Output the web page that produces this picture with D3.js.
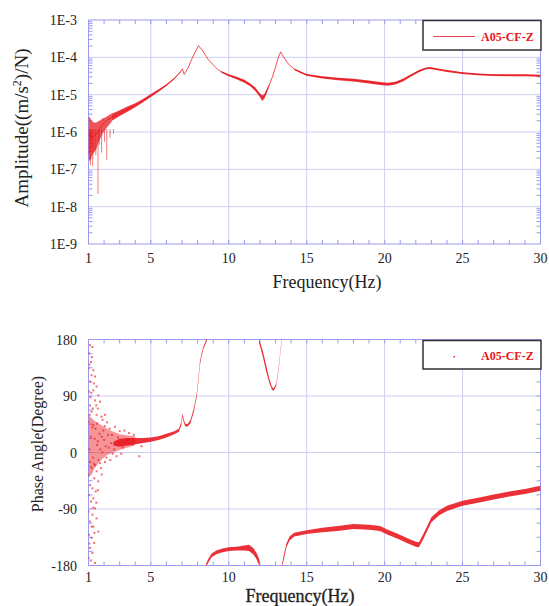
<!DOCTYPE html>
<html>
<head>
<meta charset="utf-8">
<script src="https://cdn.jsdelivr.net/npm/d3@7"></script>
<style>
  body { margin: 0; background: #fff; }
  svg { display: block; }
  text { font-family: "Liberation Serif", "Times New Roman", serif; fill: #222; }
</style>
</head>
<body>
<svg id="chart" width="549" height="606"></svg>
<script>
// x axis ticks (Hz)
const freqTicks = [1, 5, 10, 15, 20, 25, 30];
const freqMinor = d3.range(1, 31);
const ampTicks = [1e-9, 1e-8, 1e-7, 1e-6, 1e-5, 1e-4, 1e-3];
const ampTickLabels = ["1E-9", "1E-8", "1E-7", "1E-6", "1E-5", "1E-4", "1E-3"];
const phaseTicks = [-180, -90, 0, 90, 180];
const phaseMinor = d3.range(-180, 181, 22.5);

// amplitude, centre of the trace [Hz, (m/s2)/N]
const ampMain = [
  [1.0, 9e-7], [1.15, 7.5e-7], [1.3, 7.5e-7], [1.45, 8.5e-7], [1.6, 1.0e-6], [1.8, 1.4e-6],
  [2.0, 1.8e-6], [2.5, 2.5e-6], [3.0, 3.2e-6], [3.5, 4.1e-6], [4.0, 5.2e-6], [4.5, 7.0e-6],
  [5.0, 9.5e-6], [5.5, 1.3e-5], [6.0, 1.8e-5], [6.5, 2.7e-5], [6.8, 3.6e-5], [7.02, 4.9e-5],
  [7.14, 3.5e-5], [7.4, 5.3e-5], [7.6, 8.5e-5], [7.85, 1.4e-4], [8.06, 2.05e-4], [8.3, 1.55e-4],
  [8.5, 1.15e-4], [8.7, 8.6e-5], [9.0, 6.3e-5], [9.3, 4.7e-5], [9.6, 3.9e-5], [10.0, 3.3e-5],
  [10.5, 2.8e-5], [11.0, 2.3e-5], [11.4, 1.8e-5], [11.7, 1.4e-5], [11.95, 1.05e-5], [12.15, 8.3e-6],
  [12.3, 9.5e-6], [12.45, 1.3e-5], [12.6, 1.8e-5], [12.8, 3.0e-5], [13.0, 5.5e-5], [13.2, 1.05e-4],
  [13.33, 1.4e-4], [13.5, 1.05e-4], [13.8, 6.8e-5], [14.2, 4.8e-5], [14.6, 3.9e-5], [15.0, 3.4e-5],
  [16.0, 2.9e-5], [17.0, 2.65e-5], [18.0, 2.45e-5], [19.0, 2.2e-5], [19.7, 2.0e-5], [20.2, 1.9e-5],
  [20.7, 2.05e-5], [21.2, 2.5e-5], [21.7, 3.3e-5], [22.2, 4.3e-5], [22.6, 5.0e-5], [22.9, 5.2e-5],
  [23.5, 4.7e-5], [24.0, 4.3e-5], [25.0, 3.8e-5], [26.0, 3.5e-5], [27.0, 3.35e-5], [28.0, 3.3e-5],
  [29.0, 3.3e-5], [30.0, 3.2e-5]
];

// noise spread of the amplitude trace [Hz, low, high]
const ampBandNoise = [
  [1.0, 2.0e-7, 2.6e-6], [1.1, 1.6e-7, 2.4e-6], [1.2, 2.2e-7, 2.0e-6], [1.35, 2.8e-7, 1.8e-6],
  [1.5, 3.5e-7, 1.8e-6], [1.7, 6.0e-7, 2.0e-6], [1.9, 9.0e-7, 2.3e-6], [2.1, 1.2e-6, 2.5e-6],
  [2.5, 1.9e-6, 3.2e-6]
];
const ampBandLow = [
  [2.5, 2.0e-6, 3.1e-6], [3.0, 2.7e-6, 3.8e-6], [3.5, 3.5e-6, 4.8e-6], [4.0, 4.6e-6, 5.9e-6],
  [4.5, 6.3e-6, 7.7e-6], [5.0, 8.7e-6, 1.04e-5], [5.5, 1.2e-5, 1.4e-5], [6.0, 1.7e-5, 1.9e-5],
  [6.5, 2.6e-5, 2.8e-5], [6.9, 4.0e-5, 4.2e-5]
];
const ampBandMid = [
  [9.5, 3.9e-5, 4.3e-5], [10.0, 3.1e-5, 3.5e-5], [10.5, 2.6e-5, 3.0e-5], [11.0, 2.1e-5, 2.5e-5],
  [11.4, 1.65e-5, 1.95e-5], [11.7, 1.25e-5, 1.55e-5], [11.95, 9.2e-6, 1.15e-5], [12.15, 6.8e-6, 9.5e-6],
  [12.3, 8.0e-6, 1.08e-5], [12.45, 1.15e-5, 1.42e-5], [12.6, 1.7e-5, 1.9e-5]
];
const ampBandHigh = [
  [14.2, 4.6e-5, 5.0e-5], [15, 3.2e-5, 3.6e-5], [16, 2.7e-5, 3.1e-5], [17, 2.45e-5, 2.85e-5],
  [18, 2.25e-5, 2.65e-5], [19, 2.0e-5, 2.4e-5], [19.7, 1.82e-5, 2.2e-5], [20.2, 1.72e-5, 2.08e-5],
  [20.7, 1.87e-5, 2.23e-5], [21.2, 2.3e-5, 2.7e-5], [21.7, 3.05e-5, 3.55e-5], [22.2, 4.0e-5, 4.6e-5],
  [22.6, 4.7e-5, 5.3e-5], [22.9, 4.9e-5, 5.5e-5], [23.5, 4.45e-5, 4.95e-5], [24, 4.05e-5, 4.55e-5],
  [25, 3.6e-5, 4.0e-5], [26, 3.3e-5, 3.7e-5], [27, 3.15e-5, 3.55e-5], [28, 3.1e-5, 3.5e-5],
  [29, 3.1e-5, 3.5e-5], [30, 3.0e-5, 3.4e-5]
];
// downward spikes at low frequency [Hz, lowest value]
const ampSpikes = [
  [1.04, 2.6e-7], [1.12, 1.3e-7], [1.19, 3.5e-7], [1.27, 1.2e-7], [1.36, 3.2e-7], [1.47, 2.4e-7],
  [1.61, 2.2e-8], [1.7, 4.5e-7], [1.84, 2.8e-7], [2.03, 5.5e-7], [2.17, 1.8e-7], [2.38, 7e-7], [2.6, 9e-7]
];

// phase branches [Hz, low deg, high deg]
const phaseCloud = [
  [1.0, -40, 60], [1.2, -35, 55], [1.4, -25, 50], [1.8, -12, 44], [2.2, -4, 38], [2.6, 0, 33],
  [3.0, 4, 29], [3.5, 8, 27], [4.0, 11, 26]
];
const phaseA = [
  [2.6, 11, 17], [3.0, 9, 22], [3.5, 11, 23], [4.0, 13, 23], [4.5, 15, 23], [5.0, 17, 24], [5.5, 20, 26],
  [6.0, 24, 30], [6.5, 29, 34], [6.8, 33, 38], [6.95, 43, 49], [7.02, 57, 62], [7.1, 49, 54],
  [7.2, 42, 46], [7.35, 41, 45], [7.55, 47, 52], [7.78, 67, 73], [7.94, 88, 94], [8.05, 113, 119],
  [8.15, 139, 145], [8.25, 153, 158], [8.36, 164, 168], [8.5, 173, 177], [8.6, 178, 182]
];
const phaseB = [
  [11.95, 174, 182], [12.05, 165, 173], [12.2, 151, 160], [12.4, 129, 139], [12.6, 111, 118],
  [12.75, 101, 106], [12.85, 98, 102], [12.95, 101, 105], [13.05, 107, 111], [13.15, 123, 127],
  [13.25, 143, 147], [13.32, 161, 165], [13.4, 178, 182]
];
const phaseC = [
  [8.55, -182, -177], [8.7, -175, -169], [8.9, -167, -161], [9.2, -162, -156], [9.6, -159, -153],
  [10.0, -157, -151], [10.5, -156, -150], [11.0, -156, -148], [11.3, -157, -147], [11.6, -163, -153],
  [11.8, -171, -161], [11.97, -182, -171]
];
const phaseD = [
  [13.42, -182, -177], [13.55, -169, -161], [13.7, -151, -145], [13.9, -140, -134], [14.2, -134, -128],
  [15.0, -130, -124], [16.0, -127, -120], [17.0, -125, -117], [18.0, -122, -114], [19.0, -123, -115],
  [19.7, -125, -117], [20.2, -131, -123], [20.8, -137, -129], [21.5, -145, -137], [22.0, -150, -142],
  [22.2, -151, -143], [22.5, -137, -129], [23.0, -111, -103], [23.5, -100, -92], [24.0, -93, -85],
  [25.0, -85, -77], [26.0, -80, -72], [27.0, -75, -67], [28.0, -70, -62], [29.0, -66, -58], [30.0, -61, -53]
];
// scattered phase points at low frequency [Hz, deg]
const phaseScatter = [
  [1.10, 171], [1.25, 168], [1.03, 158], [1.16, 144], [1.0, 134], [1.31, 131], [1.20, 123], [1.42, 121],
  [1.10, 113], [1.52, 105], [1.31, 99], [1.03, 97], [1.63, 91], [1.42, 83], [1.74, 81], [1.10, 75],
  [1.20, 65], [1.52, 60], [1.84, 57], [2.06, 60], [1.0, 49], [1.31, 44], [1.6, 70], [1.9, 52],
  [1.10, -15], [1.42, -20], [1.74, -17], [2.06, -15], [1.20, -25], [1.52, -30], [1.0, -36], [1.37, -41],
  [1.63, -46], [1.10, -52], [1.25, -57], [1.46, -62], [1.03, -68], [1.31, -73], [1.16, -78], [1.42, -89],
  [1.0, -94], [1.25, -99], [1.52, -105], [1.10, -110], [1.31, -118], [1.63, -126], [1.03, -131], [1.20, -136],
  [1.37, -144], [1.10, -152], [1.25, -160], [1.0, -168], [1.42, -176], [4.26, -6], [2.4, -12], [2.8, -6],
  [2.2, 48], [2.7, 41], [3.3, 35], [1.8, -25], [1.55, 12], [1.15, 25], [1.05, 5], [1.28, -8],
  [1.7, 30], [2.0, 20], [2.3, 8], [2.5, 28], [1.9, 0], [3.1, -2], [3.6, 31], [1.45, 38],
  [1.12, 88], [1.05, 140], [1.22, 152], [1.35, 110], [1.18, 95], [1.5, 75], [1.08, 60], [1.28, 70],
  [1.6, -60], [1.85, -35], [1.5, -80], [1.2, -118], [1.38, -128], [1.05, -145], [1.15, -172], [1.3, -88],
  [1.6, 18], [1.75, 5], [1.95, 35], [2.1, 10], [2.25, 28], [2.45, 15], [2.65, 5], [2.9, 24],
  [3.2, 8], [3.45, 18], [3.8, 13], [2.15, -8], [1.65, -12], [1.4, 22], [1.25, 40], [1.35, -18],
  [2.35, 38], [2.55, -2], [3.0, 34], [3.9, 28], [4.4, 10], [1.55, 46], [1.85, 25], [2.05, 42]
];

const svg = d3.select("#chart");
const RED = "#e8141b";
const AXIS = "#9a9af0";
const GRID = "#cdcdf5";

const x = d3.scaleLinear().domain([1, 30]).range([88.5, 540.5]);
const yAmp = d3.scaleLog().domain([1e-9, 1e-3]).range([244, 20]);
const yPh = d3.scaleLinear().domain([-180, 180]).range([565.5, 339.5]);

const defs = svg.append("defs");

function panel(id, y, yMajor, yMinorVals, yFmt, labelOffset) {
  const [y0, y1] = y.range(); // bottom, top
  const x0 = x.range()[0], x1 = x.range()[1];
  defs.append("clipPath").attr("id", id)
    .append("rect").attr("x", x0).attr("y", y1).attr("width", x1 - x0).attr("height", y0 - y1);

  const g = svg.append("g");
  // grid
  g.append("g").selectAll("line").data(freqTicks.slice(1, -1)).join("line")
    .attr("x1", d => x(d)).attr("x2", d => x(d)).attr("y1", y1).attr("y2", y0)
    .attr("stroke", GRID).attr("stroke-width", 1);
  g.append("g").selectAll("line").data(yMajor.slice(1, -1)).join("line")
    .attr("x1", x0).attr("x2", x1).attr("y1", d => y(d)).attr("y2", d => y(d))
    .attr("stroke", GRID).attr("stroke-width", 1);

  // inward minor ticks
  const t = g.append("g").attr("stroke", AXIS).attr("stroke-width", 1);
  t.selectAll(".xb").data(freqMinor).join("line")
    .attr("x1", d => x(d)).attr("x2", d => x(d)).attr("y1", y0).attr("y2", y0 - 4);
  t.selectAll(".xt").data(freqMinor).join("line")
    .attr("x1", d => x(d)).attr("x2", d => x(d)).attr("y1", y1).attr("y2", y1 + 4);
  t.selectAll(".yl").data(yMinorVals).join("line")
    .attr("x1", x0).attr("x2", x0 + 4).attr("y1", d => y(d)).attr("y2", d => y(d));
  t.selectAll(".yr").data(yMinorVals).join("line")
    .attr("x1", x1).attr("x2", x1 - 4).attr("y1", d => y(d)).attr("y2", d => y(d));

  // frame
  g.append("rect").attr("x", x0).attr("y", y1).attr("width", x1 - x0).attr("height", y0 - y1)
    .attr("fill", "none").attr("stroke", AXIS).attr("stroke-width", 1);

  // tick labels
  g.append("g").selectAll("text").data(freqTicks).join("text")
    .attr("x", d => x(d)).attr("y", y0 + labelOffset).attr("text-anchor", "middle")
    .attr("font-size", 14).text(d => d);
  g.append("g").selectAll("text").data(yMajor).join("text")
    .attr("x", 77).attr("y", d => y(d) + 5).attr("text-anchor", "end")
    .attr("font-size", 14).text((d, i) => yFmt(d, i));
  return g;
}

// ---- top: amplitude ----
const ampMinor = [];
for (let e = -9; e < -3; e++) for (let m = 2; m <= 9; m++) ampMinor.push(m * Math.pow(10, e));
panel("clipAmp", yAmp, ampTicks, ampMinor, (d, i) => ampTickLabels[i], 19);

const gAmp = svg.append("g").attr("clip-path", "url(#clipAmp)");
const ampArea = d3.area().x(d => x(d[0])).y0(d => yAmp(d[1])).y1(d => yAmp(d[2]));
gAmp.append("path").datum(ampBandNoise).attr("d", ampArea)
  .attr("fill", RED).attr("fill-opacity", 0.72);
[ampBandLow, ampBandMid, ampBandHigh].forEach(b => {
  gAmp.append("path").datum(b).attr("d", ampArea)
    .attr("fill", RED).attr("fill-opacity", 0.85);
});
gAmp.append("g").selectAll("line").data(ampSpikes).join("line")
  .attr("x1", d => x(d[0])).attr("x2", d => x(d[0]))
  .attr("y1", d => yAmp(1.2e-6)).attr("y2", d => yAmp(d[1]))
  .attr("stroke", RED).attr("stroke-width", 0.8).attr("stroke-opacity", 0.7);
gAmp.append("path").datum(ampMain)
  .attr("d", d3.line().x(d => x(d[0])).y(d => yAmp(d[1])))
  .attr("fill", "none").attr("stroke", RED).attr("stroke-width", 1).attr("stroke-opacity", 0.75);

// labels
svg.append("text").attr("x", 327).attr("y", 288).attr("text-anchor", "middle")
  .attr("font-size", 18).text("Frequency(Hz)");
const ampLabel = svg.append("text")
  .attr("transform", "translate(28,128) rotate(-90)").attr("text-anchor", "middle").attr("font-size", 19);
ampLabel.append("tspan").text("Amplitude((m/s");
ampLabel.append("tspan").attr("font-size", 12).attr("dy", -7).text("2");
ampLabel.append("tspan").attr("dy", 7).text(")/N)");

// legend
const lg1 = svg.append("g");
lg1.append("rect").attr("x", 423).attr("y", 20.5).attr("width", 118).attr("height", 29.5)
  .attr("fill", "#fff").attr("stroke", "#333").attr("stroke-width", 1.5);
lg1.append("line").attr("x1", 433).attr("x2", 475).attr("y1", 36.5).attr("y2", 36.5)
  .attr("stroke", RED).attr("stroke-width", 1).attr("stroke-opacity", 0.8);
lg1.append("text").attr("x", 481).attr("y", 41).attr("font-size", 12).attr("font-weight", "bold")
  .style("fill", RED).text("A05-CF-Z");

// ---- bottom: phase ----
panel("clipPh", yPh, phaseTicks, phaseMinor, d => d, 16);

const gPh = svg.append("g").attr("clip-path", "url(#clipPh)");
const phArea = d3.area().x(d => x(d[0])).y0(d => yPh(d[1])).y1(d => yPh(d[2]));
gPh.append("path").datum(phaseCloud).attr("d", phArea)
  .attr("fill", RED).attr("fill-opacity", 0.45);
[phaseA, phaseB, phaseC, phaseD].forEach(b => {
  gPh.append("path").datum(b).attr("d", phArea)
    .attr("fill", RED).attr("fill-opacity", 0.88);
});
gPh.append("g").selectAll("rect").data(phaseScatter).join("rect")
  .attr("x", d => x(d[0]) - 1).attr("y", d => yPh(d[1]) - 1)
  .attr("width", 2).attr("height", 2)
  .attr("fill", RED).attr("fill-opacity", 0.6);

svg.append("text").attr("x", 300).attr("y", 602).attr("text-anchor", "middle")
  .attr("font-size", 18).attr("stroke", "#222").attr("stroke-width", 0.3).text("Frequency(Hz)");
svg.append("text").attr("transform", "translate(43,444) rotate(-90)")
  .attr("text-anchor", "middle").attr("font-size", 16).text("Phase Angle(Degree)");

const lg2 = svg.append("g");
lg2.append("rect").attr("x", 423).attr("y", 340.5).attr("width", 118).attr("height", 28.5)
  .attr("fill", "#fff").attr("stroke", "#333").attr("stroke-width", 1.5);
lg2.append("rect").attr("x", 453.5).attr("y", 356).attr("width", 1.5).attr("height", 1.5).attr("fill", RED);
lg2.append("text").attr("x", 481).attr("y", 360).attr("font-size", 12).attr("font-weight", "bold")
  .style("fill", RED).text("A05-CF-Z");
</script>
</body>
</html>
